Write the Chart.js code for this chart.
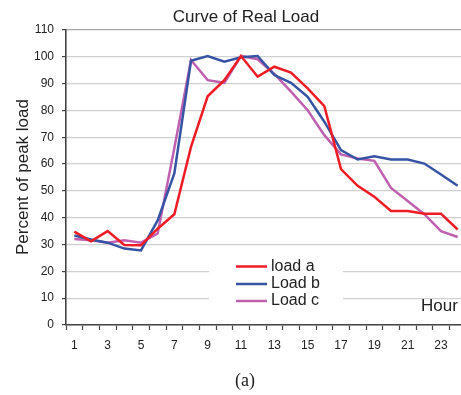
<!DOCTYPE html>
<html>
<head>
<meta charset="utf-8">
<script src="https://cdn.jsdelivr.net/npm/chart.js@4"></script>
<style>
html,body{margin:0;padding:0;background:#fff;overflow:hidden;}
#wrap{width:470px;height:395px;}
</style>
</head>
<body>
<div id="wrap"><canvas id="c" width="470" height="395"></canvas></div>
<script>
const hours = ['1','2','3','4','5','6','7','8','9','10','11','12','13','14','15','16','17','18','19','20','21','22','23','24'];
const loadA = [34.8, 31.2, 35.0, 29.8, 29.7, 35.9, 41.3, 66.4, 85.3, 91.3, 100.3, 92.6, 96.3, 94.1, 88.2, 81.6, 58.1, 51.9, 47.8, 42.5, 42.5, 41.5, 41.5, 35.6];
const loadB = [33.4, 31.9, 30.7, 28.5, 27.8, 39.0, 56.5, 98.5, 100.3, 98.2, 99.8, 100.3, 93.2, 90.3, 85.1, 75.8, 65.2, 61.7, 62.9, 61.7, 61.7, 60.2, 56.1, 51.9];
const loadC = [32.1, 31.6, 30.7, 31.6, 30.7, 34.1, 66.0, 98.8, 91.3, 90.3, 100.3, 99.1, 93.6, 87.0, 80.1, 70.8, 63.6, 62.1, 61.2, 51.1, 46.2, 41.3, 35.0, 32.8];
const seriesNames = ['load a', 'Load b', 'Load c'];
const seriesColors = ['#ee1c25', '#3653a4', '#c060b0'];
const titleText = 'Curve of Real Load';
const yTitle = 'Percent of peak load';
const xTitle = 'Hour';
const caption = '(a)';

const SANS = '"Liberation Sans", Arial, sans-serif';

const decor = {
  id: 'decor',
  beforeDatasetsDraw(chart) {
    const ctx = chart.ctx;
    ctx.save();
    ctx.fillStyle = '#fff';
    ctx.fillRect(209, 252, 134, 56);
    ctx.restore();
  },
  afterDraw(chart) {
    const ctx = chart.ctx;
    ctx.save();
    ctx.fillStyle = '#222';
    ctx.textAlign = 'center';
    ctx.textBaseline = 'middle';
    ctx.font = '17px ' + SANS;
    ctx.fillText(titleText, 246, 17);
    // y title
    ctx.save();
    ctx.translate(23, 177);
    ctx.rotate(-Math.PI / 2);
    ctx.fillText(yTitle, 0, 0);
    ctx.restore();
    // hour
    ctx.textAlign = 'left';
    ctx.fillText(xTitle, 421, 306);
    // legend
    ctx.font = '16px ' + SANS;
    const rows = [266.5, 284, 301];
    seriesNames.forEach((n, i) => {
      ctx.strokeStyle = seriesColors[i];
      ctx.lineWidth = 2.5;
      ctx.beginPath();
      ctx.moveTo(236, rows[i]);
      ctx.lineTo(267, rows[i]);
      ctx.stroke();
      ctx.fillStyle = '#222';
      ctx.fillText(n, 271, rows[i]);
    });
    // caption
    ctx.textAlign = 'center';
    ctx.font = '18px "Liberation Serif", "Times New Roman", serif';
    ctx.fillText(caption, 245, 381);
    ctx.restore();
  }
};

new Chart(document.getElementById('c'), {
  type: 'line',
  data: {
    labels: hours,
    datasets: [loadA, loadB, loadC].map((d, i) => ({
      label: seriesNames[i],
      data: d,
      borderColor: seriesColors[i],
      backgroundColor: seriesColors[i],
      borderWidth: 2.5,
      pointRadius: 0,
      tension: 0,
      fill: false
    }))
  },
  options: {
    responsive: false,
    animation: false,
    layout: { padding: { top: 30, left: 0, right: 4, bottom: 0 } },
    plugins: { legend: { display: false }, title: { display: false }, tooltip: { enabled: false } },
    scales: {
      x: {
        type: 'category',
        offset: true,
        afterFit(s) { s.height = 70; },
        grid: { offset: true, drawOnChartArea: false, drawTicks: true, tickLength: 5, tickColor: '#444', tickWidth: 1.2 },
        border: { color: '#444', width: 1.6 },
        ticks: {
          autoSkip: false, maxRotation: 0, padding: 8,
          color: '#222', font: { family: SANS, size: 12 },
          callback(v, i) { return i % 2 === 0 ? hours[i] : ''; }
        }
      },
      y: {
        min: 0, max: 110,
        afterFit(s) { s.width = 66; },
        grid: {
          color(c) { return c.tick && c.tick.value === 110 ? '#a8a8a8' : '#d0d0d0'; },
          lineWidth: 1.2, tickLength: 4, tickColor: '#444'
        },
        border: { color: '#444', width: 1.6 },
        ticks: { stepSize: 10, padding: 8, color: '#222', font: { family: SANS, size: 12 } }
      }
    }
  },
  plugins: [decor]
});
</script>
</body>
</html>
